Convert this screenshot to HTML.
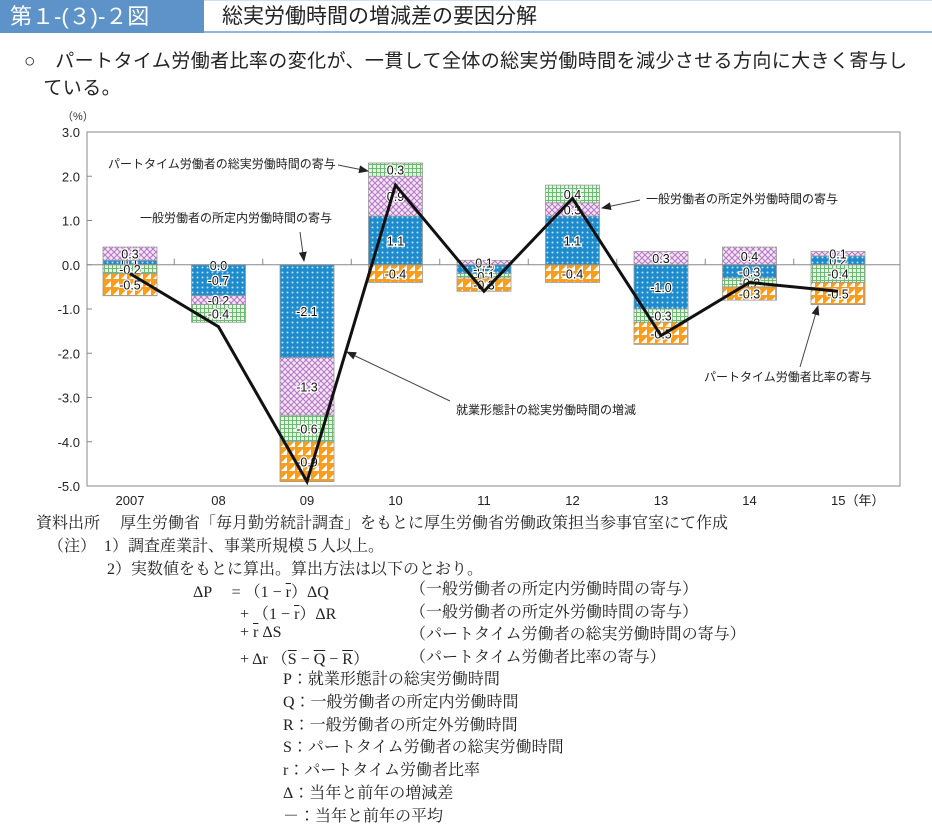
<!DOCTYPE html>
<html><head><meta charset="utf-8">
<style>
body{margin:0;width:932px;height:838px;background:#fff;position:relative;overflow:hidden;font-family:"Liberation Sans","Noto Sans CJK JP",sans-serif;}
.abs{position:absolute;white-space:nowrap;}
.serif{font-family:"Liberation Serif","Noto Serif CJK JP","Noto Serif CJK SC",serif;font-size:16px;color:#222;}
.ov{text-decoration:overline;}
</style></head><body>
<div class="abs" style="left:0;top:0;width:204px;height:33px;background:#5d93c8;color:#fff;font-size:22px;line-height:33px;padding-left:10px;box-sizing:border-box;">第１-(３)-２図</div>
<div class="abs" style="left:204px;top:0;width:728px;height:33px;border-bottom:2px solid #8fb6dc;border-top:1px solid #cfe0f0;box-sizing:border-box;font-size:21px;line-height:31px;padding-left:18px;color:#222;">総実労働時間の増減差の要因分解</div>
<div class="abs" style="left:24px;top:48px;font-size:19px;letter-spacing:0.4px;line-height:27px;color:#222;">○　パートタイム労働者比率の変化が、一貫して全体の総実労働時間を減少させる方向に大きく寄与し<br>　ている。</div>

<svg class="abs" style="left:0;top:0" width="932" height="520">
<defs>
<pattern id="pb" width="5" height="5" patternUnits="userSpaceOnUse"><rect width="5" height="5" fill="#1e8ccc"/><circle cx="2.5" cy="2.5" r="1" fill="#bfe3f6"/></pattern>
<pattern id="pp" width="6" height="6" patternUnits="userSpaceOnUse"><rect width="6" height="6" fill="#f2e6f5"/><path d="M0 0L6 6M6 0L0 6" stroke="#b673c4" stroke-width="1"/></pattern>
<pattern id="pg" width="4" height="4" patternUnits="userSpaceOnUse"><rect width="4" height="4" fill="#e6f4e6"/><path d="M0 0.5H4M0.5 0V4" stroke="#6dbb73" stroke-width="1"/></pattern>
<pattern id="po" width="8" height="8" patternUnits="userSpaceOnUse"><rect width="8" height="8" fill="#f99d1c"/><path d="M1 7L7 7L7 1Z" fill="#fff"/></pattern>
<marker id="ar" markerWidth="10" markerHeight="8" refX="9" refY="4" orient="auto"><path d="M0 0L10 4L0 8Z" fill="#222"/></marker>
</defs>
<g id="g"></g>
</svg>

<div class="abs serif" style="left:36px;top:510px;">資料出所　 厚生労働省「毎月勤労統計調査」をもとに厚生労働省労働政策担当参事官室にて作成</div>
<div class="abs serif" style="left:48px;top:533px;">（注）　1）調査産業計、事業所規模５人以上。</div>
<div class="abs serif" style="left:107px;top:556px;">2）実数値をもとに算出。算出方法は以下のとおり。</div>
<div class="abs serif" style="left:193px;top:579px;">ΔP　 = （1 − <span class="ov">r</span>）ΔQ</div>
<div class="abs serif" style="left:240px;top:601px;">+ （1 − <span class="ov">r</span>）ΔR</div>
<div class="abs serif" style="left:240px;top:624px;">+ <span class="ov">r</span> ΔS</div>
<div class="abs serif" style="left:240px;top:646px;">+ Δr （<span class="ov">S</span> − <span class="ov">Q</span> − <span class="ov">R</span>）</div>
<div class="abs serif" style="left:410px;top:579px;line-height:22.5px;">（一般労働者の所定内労働時間の寄与）<br>（一般労働者の所定外労働時間の寄与）<br>（パートタイム労働者の総実労働時間の寄与）<br>（パートタイム労働者比率の寄与）</div>
<div class="abs serif" style="left:283px;top:669px;line-height:22.8px;">P：就業形態計の総実労働時間<br>Q：一般労働者の所定内労働時間<br>R：一般労働者の所定外労働時間<br>S：パートタイム労働者の総実労働時間<br>r：パートタイム労働者比率<br>Δ：当年と前年の増減差<br>－：当年と前年の平均</div>

<script>
const years=["2007","08","09","10","11","12","13","14","15"];
const qVals=[0.1,-0.7,-2.1,1.1,-0.2,1.1,-1.0,-0.3,0.2];
const rVals=[0.3,-0.2,-1.3,0.9,0.1,0.3,0.3,0.4,0.1];
const sVals=[-0.2,-0.4,-0.6,0.3,-0.1,0.4,-0.3,-0.2,-0.4];
const ratioVals=[-0.5,0.0,-0.9,-0.4,-0.3,-0.4,-0.5,-0.3,-0.5];
const totalVals=[-0.2,-1.4,-4.9,1.8,-0.6,1.5,-1.6,-0.4,-0.6];
const yTicks=[3,2,1,0,-1,-2,-3,-4,-5];

const NS="http://www.w3.org/2000/svg";
const g=document.getElementById('g');
const L=87,R=900,T=132,B=486,ymax=3,ymin=-5;
const y=v=>T+(ymax-v)*(B-T)/(ymax-ymin);
const step=88.5;
const x=i=>130+step*i;
const bw=54;
function el(t,a,p){const e=document.createElementNS(NS,t);for(const k in a)e.setAttribute(k,a[k]);(p||g).appendChild(e);return e;}
function fmt(v){return v===0?"0.0":(v<0?"-":"")+Math.abs(v).toFixed(1);}

let fr=el('rect',{x:L,y:T,width:R-L,height:B-T,fill:'none',stroke:'#888','stroke-width':1});


let yu=el('text',{x:62,y:120,'font-size':11,fill:'#333'});yu.textContent='（%）';


yTicks.forEach(v=>{
  let t=el('text',{x:80,y:y(v)+5,'font-size':13,'text-anchor':'end',fill:'#222'});
  t.textContent=v.toFixed(1);
  
  
  el('line',{x1:L,x2:L+5,y1:y(v),y2:y(v),stroke:'#888'});
});
years.forEach((yr,i)=>{
  const last=i===years.length-1;
  let t=el('text',{x:last?x(i)-7:x(i),y:505,'font-size':13,'text-anchor':last?'start':'middle',fill:'#222'});
  t.textContent=yr+(last?'（年）':'');
  
  
  if(!last){el('line',{x1:x(i)+step/2,x2:x(i)+step/2,y1:y(0),y2:y(0)-6,stroke:'#888'});}
});
const series=[[qVals,'url(#pb)','blue'],[rVals,'url(#pp)','purple'],[sVals,'url(#pg)','green'],[ratioVals,'url(#po)','orange']];
years.forEach((yr,i)=>{
  let pos=0,neg=0;
  series.forEach(([arr,fill,nm])=>{
    const v=arr[i];let y0,y1;
    if(v>=0){y0=pos;y1=pos+v;pos=y1;}else{y0=neg;y1=neg+v;neg=y1;}
    const top=Math.min(y(y0),y(y1)),h=Math.abs(y(y0)-y(y1));
    let r=el('rect',{x:x(i)-bw/2,y:top,width:bw,height:h,fill:fill,stroke:'#999','stroke-width':0.8});
    
    
    let t=el('text',{x:x(i),y:top+h/2+5,'font-size':12.5,'text-anchor':'middle',fill:'#111',stroke:'#fff','stroke-width':2.5,'paint-order':'stroke'});
    t.textContent=fmt(v);
    
    
  });
});
el('line',{x1:L,x2:R,y1:y(0),y2:y(0),stroke:'#888'});
let pts=totalVals.map((v,i)=>x(i)+','+y(v)).join(' ');
let pl=el('polyline',{points:pts,fill:'none',stroke:'#111','stroke-width':3,'stroke-linejoin':'miter'});


const notes=[["パートタイム労働者の総実労働時間の寄与",108,168,338,165,368,171],
["一般労働者の所定内労働時間の寄与",140,222,300,232,304,261],
["一般労働者の所定外労働時間の寄与",646,203,640,200,602,208],
["就業形態計の総実労働時間の増減",456,414,450,401,347,352],
["パートタイム労働者比率の寄与",704,381,800,367,818,306]];
notes.forEach(n=>{
  let t=el('text',{x:n[1],y:n[2],'font-size':12,fill:'#222'});t.textContent=n[0];
  
  
  el('line',{x1:n[3],y1:n[4],x2:n[5],y2:n[6],stroke:'#444','stroke-width':1,'marker-end':'url(#ar)'});
});
</script>
</body></html>
